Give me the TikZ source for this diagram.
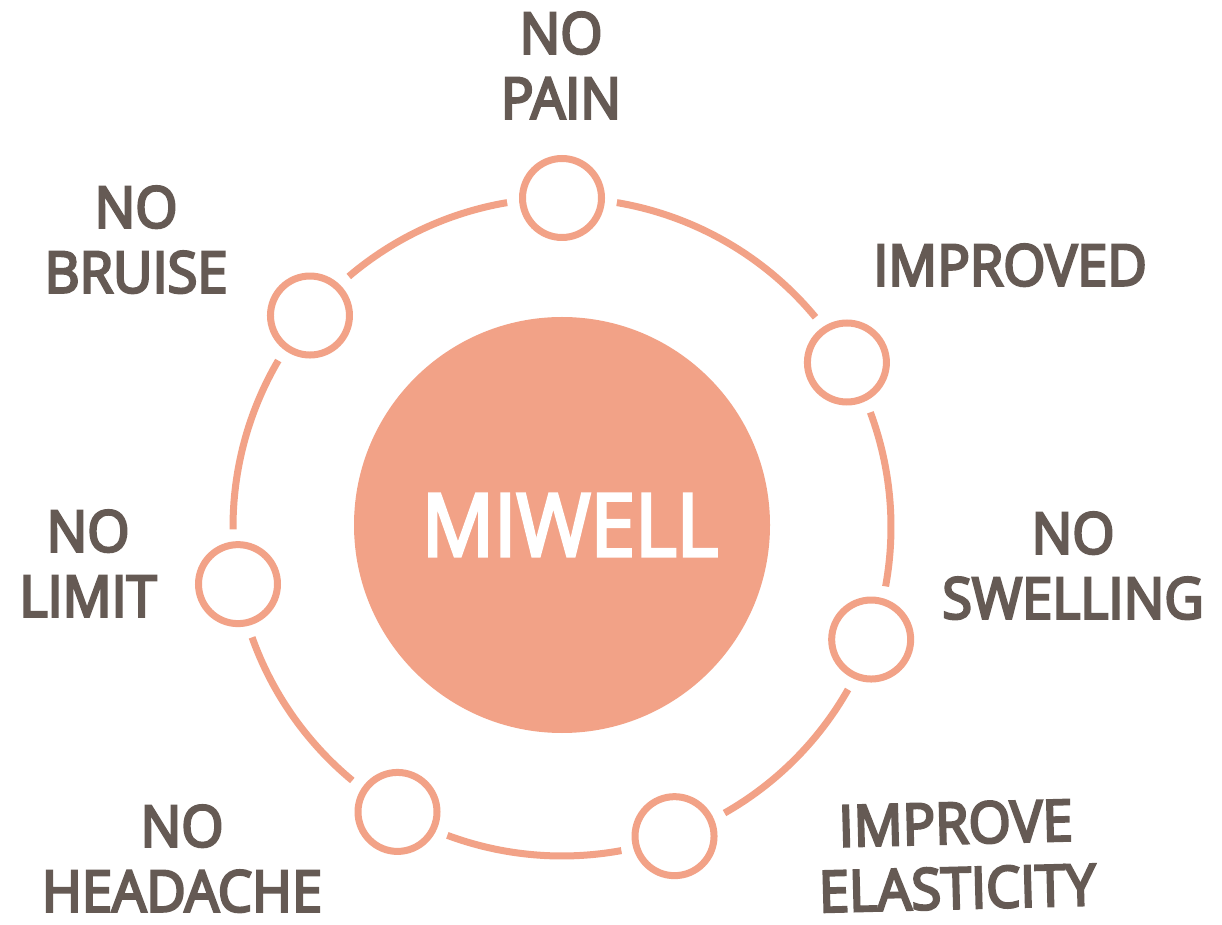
\documentclass[tikz,border=0pt]{standalone}
\usepackage{fontspec}
\usetikzlibrary{calc}
\newfontfamily\labfont{Open Sans}[FakeStretch=0.95,FakeBold=4.5]
\newfontfamily\hubfont{Open Sans}[FakeStretch=0.92,FakeBold=3.5]
\definecolor{peach}{HTML}{F2A287}
\definecolor{txt}{HTML}{655A54}
\tikzset{
  ringline/.style={draw=peach, line width=7pt},
  dot/.style={circle, draw=peach, line width=7pt, fill=white, minimum size=79pt, inner sep=0pt},
  lab/.style={text=txt, font=\labfont\fontsize{57}{65}\selectfont, align=center, inner sep=0pt, anchor=north},
}
\begin{document}
\begin{tikzpicture}[x=1pt,y=1pt]
\fill[white] (0,0) rectangle (1222,924);
\useasboundingbox (0,0) rectangle (1222,924);
\coordinate (O) at (562,397);
% hub
\node[circle, fill=peach, minimum size=416pt, inner sep=0pt] (hub) at (562,399) {};
\node[text=white, font=\hubfont\fontsize{87}{87}\selectfont, inner sep=0pt, anchor=base] (hubtxt) at (570,368) {MIWELL};
% ring arcs
\foreach \a/\b in {90/30,30/-20,-20/-70,-70/-120,-120/-170,-170/-220,-220/-270}{
  \draw[ringline] ($(O)+(\a-9.6:329)$) arc[start angle=\a-9.6, end angle=\b+9.6, radius=329];
}
% small circles
\foreach \n/\a in {c1/90,c2/30,c3/-20,c4/-70,c5/-120,c6/-170,c7/140}{
  \node[dot] (\n) at ($(O)+(\a:329)$) {};
}
% labels
\node[lab] (l1) at (561,912) {NO\\PAIN};
\node[lab] (l2) at (1010,680) {IMPROVED};
\node[lab] (l3) at (1073,412) {NO\\SWELLING};
\node[lab, rotate=1.5] (l4) at (955,122) {IMPROVE\\ELASTICITY};
\node[lab] (l5) at (182,119) {NO\\HEADACHE};
\node[lab] (l6) at (88,414) {NO\\LIMIT};
\node[lab] (l7) at (136,738) {NO\\BRUISE};
\end{tikzpicture}
\end{document}
